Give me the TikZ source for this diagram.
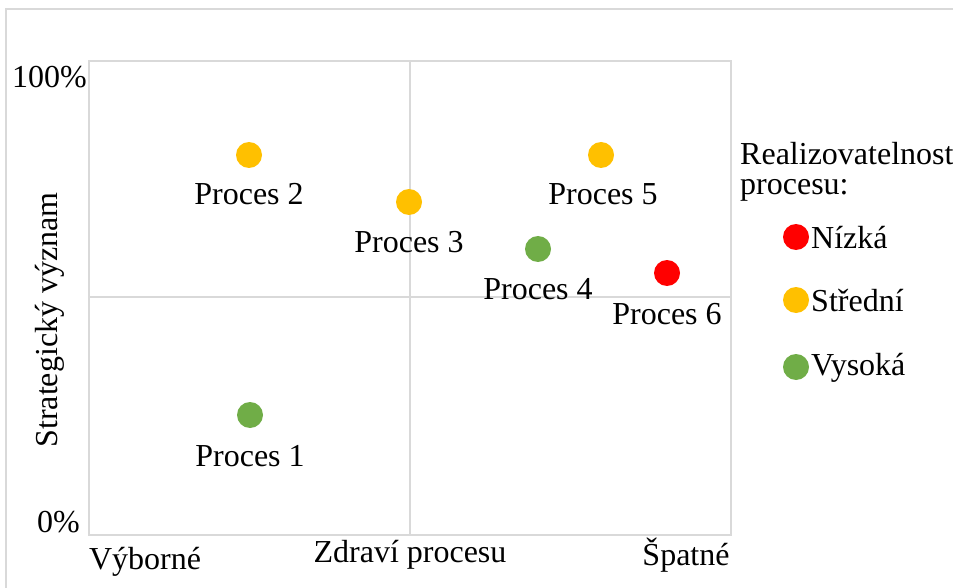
\documentclass[tikz,border=0pt]{standalone}
\usepackage{fontspec}
\setmainfont{Liberation Serif}
\definecolor{gridgray}{HTML}{D9D9D9}
\definecolor{lowred}{HTML}{FF0000}
\definecolor{midorange}{HTML}{FFC000}
\definecolor{highgreen}{HTML}{70AD47}
\tikzset{
  dot/.style={circle, inner sep=0pt, minimum size=26pt},
  txt/.style={inner sep=0pt, font=\fontsize{32}{36}\selectfont}
}
\begin{document}
\begin{tikzpicture}[x=1pt, y=-1pt]
      \useasboundingbox (0,0) rectangle (953,588);
      \draw[gridgray, line width=1.5pt] (6,588) -- (6,9) -- (953,9);
      \begin{scope}[gridgray, line width=1.2pt]
        \draw (89,61) rectangle (731,535);
        \draw (410,61) -- (410,535);
        \draw (89,297) -- (731,297);
      \end{scope}
      \draw
        (249,155) node[dot, fill=midorange] (p2){}
        (409,202) node[dot, fill=midorange] (p3){}
        (601,155) node[dot, fill=midorange] (p5){}
        (538,249) node[dot, fill=highgreen] (p4){}
        (667,273) node[dot, fill=lowred] (p6){}
        (250,415) node[dot, fill=highgreen] (p1){};
      \draw
        (249,194) node[txt] (l2){Proces 2}
        (409,242) node[txt] (l3){Proces 3}
        (603,194) node[txt] (l5){Proces 5}
        (538,289) node[txt] (l4){Proces 4}
        (667,314) node[txt] (l6){Proces 6}
        (250,456) node[txt] (l1){Proces 1};
      \draw
        (87,77) node[txt, anchor=east] (ymax){100\%}
        (80,522) node[txt, anchor=east] (ymin){0\%}
        (50,320) node[txt, rotate=90] (ylab){Strategický význam}
        (145,562) node[txt] (xmin){Výborné}
        (410,555) node[txt] (xlab){Zdraví procesu}
        (686,555) node[txt] (xmax){Špatné};
      \draw
        (740,154) node[txt, anchor=west] (leg1){Realizovatelnost}
        (740,190) node[txt, anchor=west] (leg2){procesu:}
        (796,237) node[dot, fill=lowred] (k1){}
        (796,300) node[dot, fill=midorange] (k2){}
        (796,367) node[dot, fill=highgreen] (k3){}
        (811,238) node[txt, anchor=west] (t1){Nízká}
        (811,301) node[txt, anchor=west] (t2){Střední}
        (811,368) node[txt, anchor=west] (t3){Vysoká};
    \end{tikzpicture}
\end{document}
